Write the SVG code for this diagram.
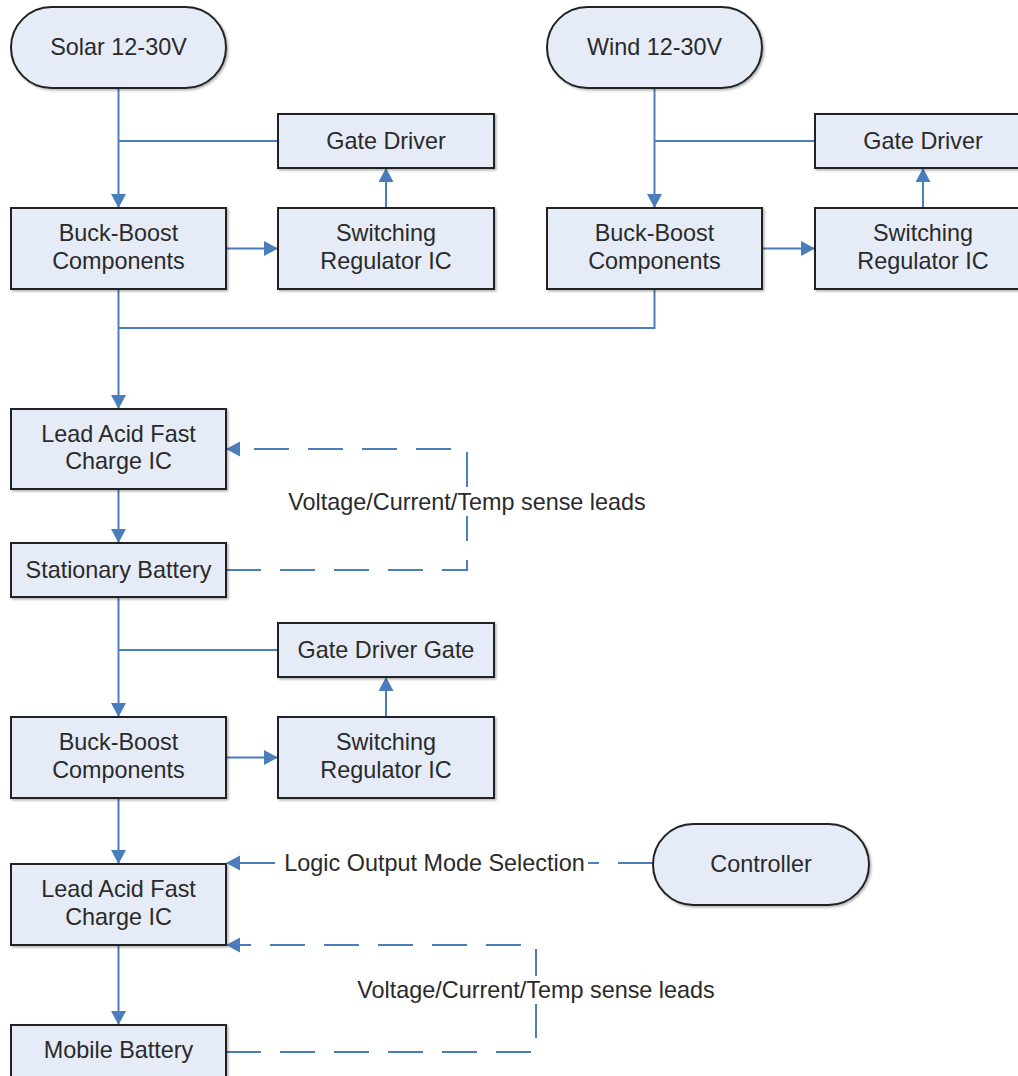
<svg xmlns="http://www.w3.org/2000/svg" width="1018" height="1076" viewBox="0 0 1018 1076">
  <defs>
    <marker id="arrow" markerUnits="userSpaceOnUse" markerWidth="16" markerHeight="16" refX="14" refY="7.5" orient="auto">
      <path d="M0,0 L14,7.5 L0,15 z" fill="#4a7ebb"/>
    </marker>
    <filter id="shadow" x="-5%" y="-5%" width="115%" height="125%">
      <feDropShadow dx="1.5" dy="1.5" stdDeviation="1" flood-color="#000" flood-opacity="0.3"/>
    </filter>
    <style>
      .box { fill: #e6ecf7; stroke: #222; stroke-width: 2; filter: url(#shadow); }
      .lbl { font-family: "Liberation Sans", Arial, sans-serif; font-size: 23.4px; fill: #2a2a2a; text-anchor: middle; }
      .wire { fill: none; stroke: #4a7ebb; stroke-width: 2; }
      .arr { marker-end: url(#arrow); }
      .dash { stroke-dasharray: 35 19; }
      .mask { fill: #fff; }
    </style>
  </defs>
  <rect width="1018" height="1076" fill="#fff"/>

  <!-- connectors -->
  <g id="connectors">
    <path class="wire arr" d="M118.5,88 V208"/>
    <path class="wire" d="M278,141 H118.5"/>
    <path class="wire arr" d="M226,248.5 H278"/>
    <path class="wire arr" d="M386,208 V168"/>
    <path class="wire arr" d="M654.5,88 V208"/>
    <path class="wire" d="M815,141 H654.5"/>
    <path class="wire arr" d="M762,248.5 H815"/>
    <path class="wire arr" d="M923,208 V168"/>
    <path class="wire arr" d="M118.5,289 V409"/>
    <path class="wire" d="M654.5,289 V328 H118.5"/>
    <path class="wire arr" d="M118.5,489 V543"/>
    <path class="wire arr dash" d="M226,570 H467 V449 H226"/>
    <path class="wire arr" d="M118.5,597 V717"/>
    <path class="wire" d="M278,650 H118.5"/>
    <path class="wire arr" d="M226,757.5 H278"/>
    <path class="wire arr" d="M386,717 V677"/>
    <path class="wire arr" d="M118.5,798 V864"/>
    <path class="wire arr dash" d="M653,863 H226"/>
    <path class="wire arr" d="M118.5,945 V1025"/>
    <path class="wire arr dash" d="M226,1052 H536 V945 H226"/>

    <!-- connector labels -->
    <rect class="mask" x="283" y="488" width="368" height="28"/>
    <text class="lbl" x="467" y="510">Voltage/Current/Temp sense leads</text>
    <rect class="mask" x="281" y="849" width="307" height="28"/>
    <text class="lbl" x="434.5" y="871">Logic Output Mode Selection</text>
    <rect class="mask" x="352" y="976" width="368" height="28"/>
    <text class="lbl" x="536" y="998">Voltage/Current/Temp sense leads</text>
  </g>

  <!-- nodes -->
  <g id="solar">
    <rect class="box" x="11" y="7" width="215" height="81" rx="40.5"/>
    <text class="lbl" x="118.5" y="55">Solar 12-30V</text>
  </g>
  <g id="wind">
    <rect class="box" x="547" y="7" width="215" height="81" rx="40.5"/>
    <text class="lbl" x="654.5" y="55">Wind 12-30V</text>
  </g>
  <g id="gate-driver-solar">
    <rect class="box" x="278" y="114" width="216" height="54"/>
    <text class="lbl" x="386" y="149">Gate Driver</text>
  </g>
  <g id="buck-boost-solar">
    <rect class="box" x="11" y="208" width="215" height="81"/>
    <text class="lbl" x="118.5" y="241">Buck-Boost</text>
    <text class="lbl" x="118.5" y="269">Components</text>
  </g>
  <g id="switching-regulator-solar">
    <rect class="box" x="278" y="208" width="216" height="81"/>
    <text class="lbl" x="386" y="241">Switching</text>
    <text class="lbl" x="386" y="269">Regulator IC</text>
  </g>
  <g id="gate-driver-wind">
    <rect class="box" x="815" y="114" width="216" height="54"/>
    <text class="lbl" x="923" y="149">Gate Driver</text>
  </g>
  <g id="buck-boost-wind">
    <rect class="box" x="547" y="208" width="215" height="81"/>
    <text class="lbl" x="654.5" y="241">Buck-Boost</text>
    <text class="lbl" x="654.5" y="269">Components</text>
  </g>
  <g id="switching-regulator-wind">
    <rect class="box" x="815" y="208" width="216" height="81"/>
    <text class="lbl" x="923" y="241">Switching</text>
    <text class="lbl" x="923" y="269">Regulator IC</text>
  </g>
  <g id="fast-charge-stationary">
    <rect class="box" x="11" y="409" width="215" height="80"/>
    <text class="lbl" x="118.5" y="442">Lead Acid Fast</text>
    <text class="lbl" x="118.5" y="469">Charge IC</text>
  </g>
  <g id="stationary-battery">
    <rect class="box" x="11" y="543" width="215" height="54"/>
    <text class="lbl" x="118.5" y="578">Stationary Battery</text>
  </g>
  <g id="gate-driver-gate">
    <rect class="box" x="278" y="623" width="216" height="54"/>
    <text class="lbl" x="386" y="658">Gate Driver Gate</text>
  </g>
  <g id="buck-boost-mobile">
    <rect class="box" x="11" y="717" width="215" height="81"/>
    <text class="lbl" x="118.5" y="750">Buck-Boost</text>
    <text class="lbl" x="118.5" y="778">Components</text>
  </g>
  <g id="switching-regulator-mobile">
    <rect class="box" x="278" y="717" width="216" height="81"/>
    <text class="lbl" x="386" y="750">Switching</text>
    <text class="lbl" x="386" y="778">Regulator IC</text>
  </g>
  <g id="fast-charge-mobile">
    <rect class="box" x="11" y="864" width="215" height="81"/>
    <text class="lbl" x="118.5" y="897">Lead Acid Fast</text>
    <text class="lbl" x="118.5" y="925">Charge IC</text>
  </g>
  <g id="controller">
    <rect class="box" x="653" y="824" width="216" height="81" rx="40.5"/>
    <text class="lbl" x="761" y="872">Controller</text>
  </g>
  <g id="mobile-battery">
    <rect class="box" x="11" y="1025" width="215" height="54"/>
    <text class="lbl" x="118.5" y="1058">Mobile Battery</text>
  </g>
</svg>
